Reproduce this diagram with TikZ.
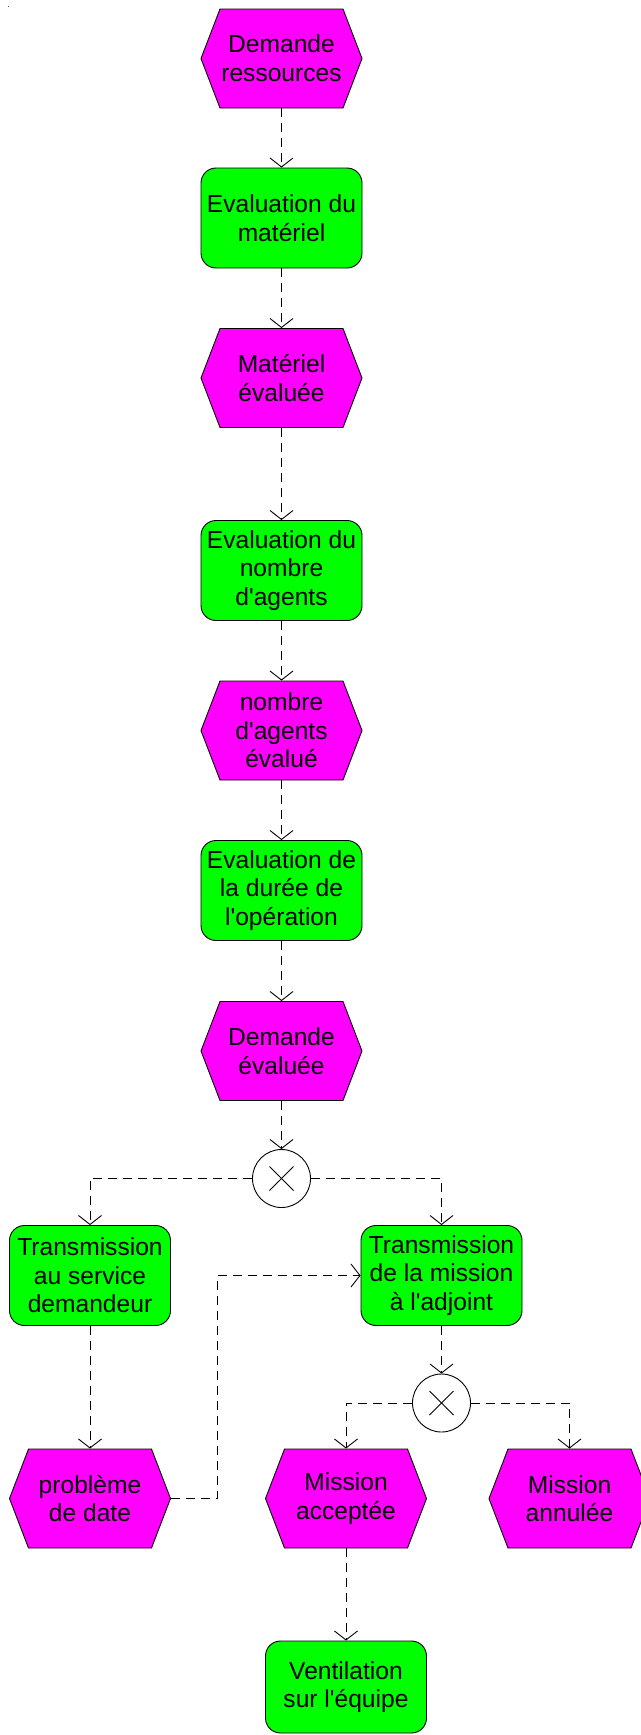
\documentclass[tikz,border=0pt]{standalone}
\usepackage{fontspec}
\setmainfont{Liberation Sans}[Ligatures=TeXOff]
\usetikzlibrary{arrows.meta,shapes.symbols}

\definecolor{eventpink}{RGB}{255,0,255}
\definecolor{funcgreen}{RGB}{0,255,0}

\tikzset{
    eventhex/.style={shape=signal, signal to=east and west, signal pointer angle=138,
        draw, fill=eventpink, minimum width=161pt, minimum height=99pt, inner sep=0pt, align=center},
    funcbox/.style={rectangle, rounded corners=15pt, draw, fill=funcgreen,
        minimum width=161pt, minimum height=100pt, inner sep=0pt, align=center},
    xorgate/.style={circle, draw, fill=white, minimum size=58pt, inner sep=0pt,
        path picture={
            \draw (path picture bounding box.center) ++(-12,-12) -- ++(24,24);
            \draw (path picture bounding box.center) ++(-12,12) -- ++(24,-24);
        }},
    flow/.style={dash pattern=on 9pt off 6pt, -{Straight Barb[length=9pt,width=23pt]}},
}

\begin{document}
\begin{tikzpicture}[x=1pt, y=1pt, line width=0.9pt,
    font=\fontsize{24.6}{28.6}\selectfont]
    \useasboundingbox (0, 0) rectangle (640, -1735);
    \fill[black!70] (7.5, -6) rectangle (8.7, -7.2);

    % main column
    \node[eventhex] (hex1) at (281.5, -58.5) {Demande\\ressources};
    \node[funcbox] (box1) at (281.5, -218) {Evaluation du\\matériel};
    \node[eventhex] (hex2) at (281.5, -378) {Matériel\\évaluée};
    \node[funcbox] (box2) at (281.5, -570.5) {Evaluation du\\nombre\\d'agents};
    \node[eventhex] (hex3) at (281.5, -730.5) {nombre\\d'agents\\évalué};
    \node[funcbox] (box3) at (281.5, -890.5) {Evaluation de\\la durée de\\l'opération};
    \node[eventhex] (hex4) at (281.5, -1051) {Demande\\évaluée};
    \node[xorgate] (xor1) at (281.5, -1178.5) {};

    % branches
    \node[funcbox] (boxL) at (90, -1275.5) {Transmission\\au service\\demandeur};
    \node[funcbox] (boxR) at (441.5, -1275.5) {Transmission\\de la mission\\à l'adjoint};
    \node[xorgate] (xor2) at (441.5, -1403) {};
    \node[eventhex] (hexL) at (90, -1498.5) {problème\\de date};
    \node[eventhex] (hexM) at (346, -1498.5) {Mission\\acceptée};
    \node[eventhex] (hexR) at (569.5, -1498.5) {Mission\\annulée};
    \node[funcbox, minimum height=92pt] (box4) at (346, -1687) {Ventilation\\sur l'équipe};

    % flows
    \foreach \a/\b in {hex1/box1, box1/hex2, hex2/box2, box2/hex3, hex3/box3,
                       box3/hex4, hex4/xor1, boxL/hexL, boxR/xor2, hexM/box4}
        \draw[flow] (\a.south) -- (\b.north);
    \draw[flow] (xor1.west) -| (boxL.north);
    \draw[flow] (xor1.east) -| (boxR.north);
    \draw[flow] (xor2.west) -| (hexM.north);
    \draw[flow] (xor2.east) -| (hexR.north);
    \draw[flow] (hexL.east) -- ++(46.5, 0) |- (boxR.west);
\end{tikzpicture}
\end{document}
